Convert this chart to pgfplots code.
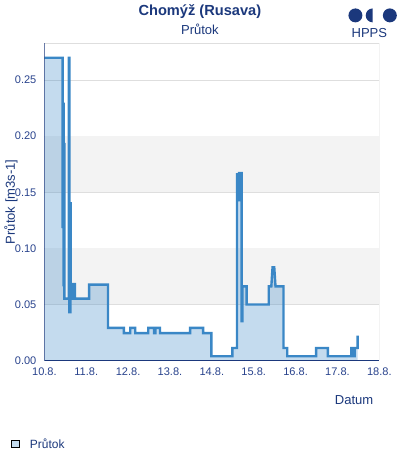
\documentclass[border=0pt]{standalone}
\usepackage{pgfplots}
\pgfplotsset{compat=1.18}
\usepackage{pgfplotstable}
\usepackage{fontspec}
\setmainfont{Liberation Sans}
\definecolor{navy}{RGB}{27,56,124}
\definecolor{ticknavy}{RGB}{40,66,140}
\definecolor{linecol}{RGB}{58,135,198}
\definecolor{band}{RGB}{243,243,243}
\definecolor{gridc}{RGB}{222,222,222}
\pgfplotstableread{
d v
0 0.270
0.436 0.270
0.436 0.119
0.46 0.119
0.46 0.230
0.46 0.067
0.476 0.067
0.476 0.194
0.476 0.055
0.585 0.055
0.585 0.270
0.595 0.270
0.595 0.043
0.62 0.043
0.62 0.140
0.63 0.140
0.63 0.055
0.69 0.055
0.69 0.068
0.73 0.068
0.73 0.055
1.07 0.055
1.07 0.0676
1.52 0.0676
1.52 0.029
1.90 0.029
1.90 0.0243
2.05 0.0243
2.05 0.029
2.17 0.029
2.17 0.0243
2.48 0.0243
2.48 0.029
2.62 0.029
2.62 0.0243
2.65 0.0243
2.65 0.029
2.76 0.029
2.76 0.0243
3.48 0.0243
3.48 0.029
3.79 0.029
3.79 0.0243
3.99 0.0243
3.99 0.0036
4.49 0.0036
4.49 0.011
4.60 0.011
4.60 0.166
4.63 0.166
4.63 0.143
4.65 0.143
4.65 0.167
4.71 0.167
4.71 0.035
4.73 0.035
4.73 0.066
4.83 0.066
4.83 0.0498
5.36 0.0498
5.36 0.066
5.42 0.066
5.45 0.083
5.49 0.083
5.52 0.066
5.71 0.066
5.71 0.011
5.80 0.011
5.80 0.0036
6.49 0.0036
6.49 0.011
6.77 0.011
6.77 0.0036
7.33 0.0036
7.33 0.011
7.35 0.011
7.35 0.0036
7.37 0.0036
7.37 0.011
7.39 0.011
7.39 0.0036
7.41 0.0036
7.41 0.011
7.48 0.011
7.48 0.022
}\flowdata
\begin{document}
\begin{tikzpicture}
\path (0pt,0pt) rectangle (300pt,-345pt);
% title
\node[font=\bfseries\fontsize{11}{13}\selectfont, text=navy] at (150pt,-7.5pt) {Chomýž (Rusava)};
\node[font=\fontsize{9.8}{12}\selectfont, text=navy] at (150pt,-21pt) {Průtok};
% logo
\fill[navy] (267pt,-10.5pt) circle (5.25pt);
\fill[navy] (280pt,-5.25pt) arc (90:270:5.25pt) -- cycle;
\fill[navy] (292.9pt,-10.5pt) circle (5.25pt);
\node[font=\fontsize{9.8}{12}\selectfont, text=navy] at (277.5pt,-24pt) {HPPS};
\begin{axis}[
  at={(33pt,-270pt)}, anchor=south west,
  scale only axis, width=252pt, height=238.5pt,
  xmin=0, xmax=8, ymin=0, ymax=0.2829,
  axis line style={draw=none},
  xtick={0,1,2,3,4,5,6,7,8},
  xticklabels={10.8.,11.8.,12.8.,13.8.,14.8.,15.8.,16.8.,17.8.,18.8.},
  ytick={0,0.05,0.10,0.15,0.20,0.25},
  /pgf/number format/assume math mode=true,
  yticklabel style={/pgf/number format/fixed, /pgf/number format/precision=2, /pgf/number format/fixed zerofill, xshift=-2.5pt},
  xticklabel style={yshift=-2.2pt},
  ticklabel style={font=\fontsize{8.3}{10}\selectfont, text=ticknavy},
  major tick length=0pt,
  scaled y ticks=false,
  ymajorgrids, grid style={gridc, line width=0.6pt},
  clip=true,
]
\fill[band] (axis cs:0,0.05) rectangle (axis cs:8,0.10);
\fill[band] (axis cs:0,0.15) rectangle (axis cs:8,0.20);
\addplot[draw=none, fill=linecol, fill opacity=0.3] table[x=d,y=v] {\flowdata} \closedcycle;
\addplot[linecol, line width=1.8pt, line join=miter] table[x=d,y=v] {\flowdata};
\draw[gridc, line width=0.75pt] (rel axis cs:0,1) -- (rel axis cs:1,1) -- (rel axis cs:1,0);
\draw[navy, line width=0.9pt] (rel axis cs:0,0) -- (rel axis cs:0,1);
\draw[navy, line width=0.9pt] (rel axis cs:0,0) -- (rel axis cs:1,0);
\end{axis}
\node[font=\fontsize{9.8}{12}\selectfont, text=navy, rotate=90] at (7.9pt,-150.75pt) {Průtok [m3s-1]};
\node[font=\fontsize{9.8}{12}\selectfont, text=navy, anchor=east] at (284pt,-300pt) {Datum};
% legend
\draw[black, line width=0.6pt, fill=linecol!30] (8.4pt,-330pt) rectangle (14.1pt,-335.7pt);
\node[font=\fontsize{9}{11}\selectfont, text=navy, anchor=west] at (18.6pt,-333pt) {Průtok};
\end{tikzpicture}
\end{document}
